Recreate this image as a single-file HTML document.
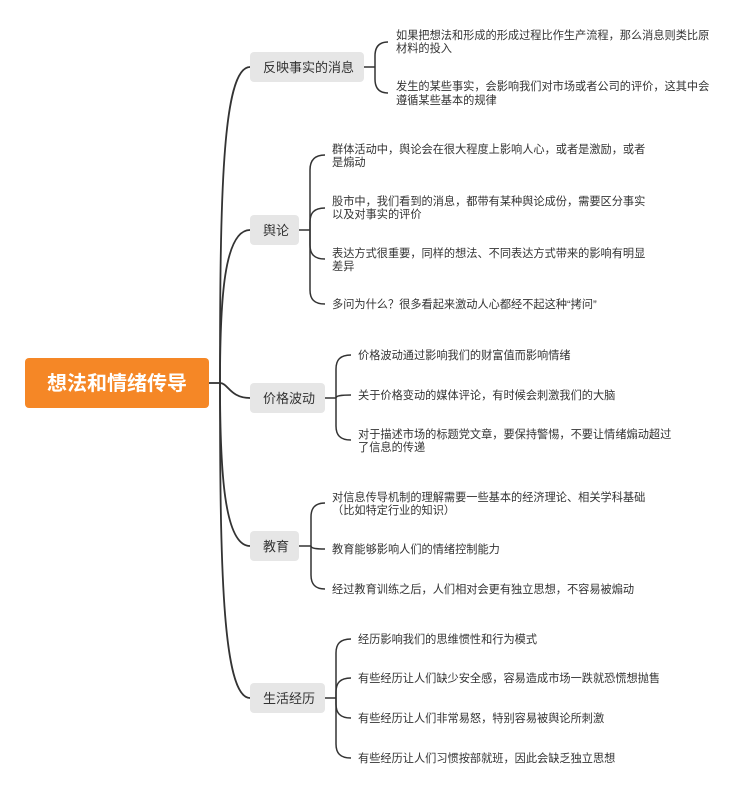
<!DOCTYPE html>
<html><head><meta charset="utf-8"><style>
html,body{margin:0;padding:0;background:#fff;width:750px;height:794px;overflow:hidden}
svg{display:block}
text{font-family:"Liberation Sans","Noto Sans CJK SC",sans-serif;fill:#333}
.l{font-size:11.2px}
.n{font-size:13px}
</style></head><body>
<svg width="750" height="794" viewBox="0 0 750 794" xmlns="http://www.w3.org/2000/svg">
<g fill="none" stroke="#333" stroke-width="1.8">
<path d="M209 383 H220"/>
<path d="M220 383 C220 200 222 67 250 67"/>
<path d="M220 383 C220 300 224 230 250 230"/>
<path d="M220 383 C228 383 230 398 250 398"/>
<path d="M220 383 C220 470 224 546 250 546"/>
<path d="M220 383 C220 560 222 698 250 698"/>
</g>
<g fill="none" stroke="#333" stroke-width="1.5">
<path d="M364 67 H375"/>
<path d="M375 67 V56 C375 47 379 42 388 42"/>
<path d="M375 67 V79 C375 88 379 93 388 93"/>
<path d="M299 230 H310"/>
<path d="M310 230 V170 C310 161 314 155 325 155"/>
<path d="M310 230 V222 C310 213 314 208 325 208"/>
<path d="M310 230 V245 C310 254 314 259 325 259"/>
<path d="M310 230 V290 C310 299 314 304 325 304"/>
<path d="M325 398 H336"/>
<path d="M336 398 V369 C336 360 340 355 351 355"/>
<path d="M336 398 C336 396 340 395 351 395"/>
<path d="M336 398 V426 C336 435 340 440 351 440"/>
<path d="M299 546 H311"/>
<path d="M311 546 V517 C311 508 315 503 325 503"/>
<path d="M311 546 C311 548 315 549 325 549"/>
<path d="M311 546 V575 C311 584 315 589 325 589"/>
<path d="M325 698 H336"/>
<path d="M336 698 V653 C336 644 340 639 351 639"/>
<path d="M336 698 V692 C336 683 340 678 351 678"/>
<path d="M336 698 V704 C336 713 340 718 351 718"/>
<path d="M336 698 V744 C336 753 340 758 351 758"/>
</g>
<rect x="25" y="358" width="184" height="50" rx="4" fill="#F58726"/>
<text x="117" y="390" text-anchor="middle" style="font-size:20px;font-weight:bold;fill:#fff">想法和情绪传导</text>
<g fill="#e6e6e6">
<rect x="250" y="52" width="114" height="30" rx="4"/>
<rect x="250" y="215" width="49" height="30" rx="4"/>
<rect x="250" y="383" width="75" height="30" rx="4"/>
<rect x="250" y="531" width="49" height="30" rx="4"/>
<rect x="250" y="683" width="75" height="30" rx="4"/>
</g>
<text class="n" x="263" y="72">反映事实的消息</text>
<text class="n" x="263" y="235">舆论</text>
<text class="n" x="263" y="403">价格波动</text>
<text class="n" x="263" y="551">教育</text>
<text class="n" x="263" y="703">生活经历</text>

<text class="l" x="396" y="39">如果把想法和形成的形成过程比作生产流程，那么消息则类比原</text>
<text class="l" x="396" y="52">材料的投入</text>
<text class="l" x="396" y="90">发生的某些事实，会影响我们对市场或者公司的评价，这其中会</text>
<text class="l" x="396" y="104">遵循某些基本的规律</text>

<text class="l" x="332" y="153">群体活动中，舆论会在很大程度上影响人心，或者是激励，或者</text>
<text class="l" x="332" y="166">是煽动</text>
<text class="l" x="332" y="205">股市中，我们看到的消息，都带有某种舆论成份，需要区分事实</text>
<text class="l" x="332" y="218">以及对事实的评价</text>
<text class="l" x="332" y="257">表达方式很重要，同样的想法、不同表达方式带来的影响有明显</text>
<text class="l" x="332" y="270">差异</text>
<text class="l" x="332" y="308">多问为什么？很多看起来激动人心都经不起这种“拷问”</text>

<text class="l" x="358" y="359">价格波动通过影响我们的财富值而影响情绪</text>
<text class="l" x="358" y="399">关于价格变动的媒体评论，有时候会刺激我们的大脑</text>
<text class="l" x="358" y="438">对于描述市场的标题党文章，要保持警惕，不要让情绪煽动超过</text>
<text class="l" x="358" y="451">了信息的传递</text>

<text class="l" x="332" y="501">对信息传导机制的理解需要一些基本的经济理论、相关学科基础</text>
<text class="l" x="332" y="514">（比如特定行业的知识）</text>
<text class="l" x="332" y="553">教育能够影响人们的情绪控制能力</text>
<text class="l" x="332" y="593">经过教育训练之后，人们相对会更有独立思想，不容易被煽动</text>

<text class="l" x="358" y="643">经历影响我们的思维惯性和行为模式</text>
<text class="l" x="358" y="682">有些经历让人们缺少安全感，容易造成市场一跌就恐慌想抛售</text>
<text class="l" x="358" y="722">有些经历让人们非常易怒，特别容易被舆论所刺激</text>
<text class="l" x="358" y="762">有些经历让人们习惯按部就班，因此会缺乏独立思想</text>
</svg>
</body></html>
